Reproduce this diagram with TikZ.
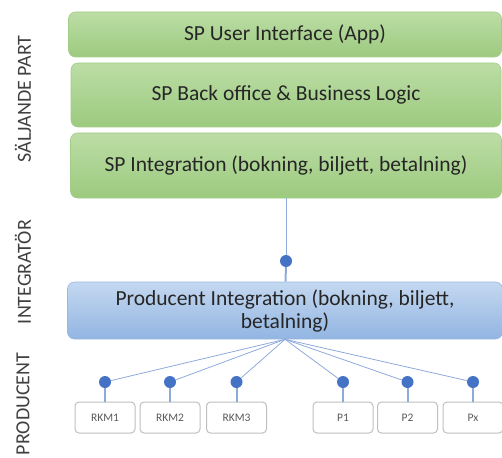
\documentclass[tikz,border=0pt]{standalone}
\usepackage{fontspec}
\setmainfont{Carlito}
\usetikzlibrary{positioning}

\definecolor{greentop}{HTML}{BCDDA6}
\definecolor{greenbot}{HTML}{9CCA7E}
\definecolor{greenedge}{HTML}{A3CD88}
\definecolor{bluetop}{HTML}{C4D8F0}
\definecolor{bluebot}{HTML}{92B5E2}
\definecolor{blueedge}{HTML}{9AB8E0}
\definecolor{pinblue}{HTML}{4472C4}
\definecolor{linkblue}{HTML}{8EAADB}
\definecolor{boxgray}{HTML}{BFBFBF}
\definecolor{textdark}{HTML}{262626}
\definecolor{textgray}{HTML}{595959}
\definecolor{sidegray}{HTML}{404040}

\tikzset{
  layer/.style={rounded corners=7pt, draw=greenedge, line width=0.6pt,
    top color=greentop, bottom color=greenbot, inner sep=0pt,
    text=textdark, font=\fontsize{21.5}{24}\selectfont},
  prodlayer/.style={layer, draw=blueedge, top color=bluetop, bottom color=bluebot,
    align=center, font=\fontsize{21.5}{23}\selectfont},
  pin/.style={circle, fill=pinblue, inner sep=0pt, minimum size=12pt},
  prod/.style={draw=boxgray, line width=1pt, rounded corners=4pt, fill=white,
    minimum width=60pt, minimum height=31pt, inner sep=0pt,
    text=textgray, font=\fontsize{11.5}{13}\selectfont},
  side/.style={rotate=90, text=sidegray, font=\fontsize{20}{24}\selectfont},
  thinlink/.style={draw=linkblue, line width=0.8pt},
  stem/.style={draw=linkblue, line width=2pt}
}

\begin{document}
\begin{tikzpicture}[x=1pt, y=-1pt]
  \useasboundingbox (0,0) rectangle (502,457);

  % role labels on the left
  \node[side] (lblsp)   at (23,99)  {SÄLJANDE PART};
  \node[side] (lblint)  at (23,272) {INTEGRATÖR};
  \node[side] (lblprod) at (23,404) {PRODUCENT};

  % seller layers
  \node[layer, minimum width=433pt, minimum height=45pt] (ui) at (285,34.5)
    {SP User Interface (App)};
  \node[layer, minimum width=430pt, minimum height=64pt] (backoffice) at (286,95)
    {SP Back office \& Business Logic};
  \node[layer, minimum width=431pt, minimum height=65pt] (spint) at (286,165.5)
    {SP Integration (bokning, biljett, betalning)};

  % integrator
  \node[prodlayer, minimum width=435pt, minimum height=57pt] (prodint) at (285,310.5)
    {Producent Integration (bokning, biljett,\\betalning)};

  % seller to integrator
  \node[pin] (pintop) at (286,261) {};
  \draw[thinlink] (spint) -- (pintop);
  \draw[stem] (pintop) -- (prodint);

  % producers
  \foreach \name/\x in {RKM1/105, RKM2/170, RKM3/236.5, P1/343, P2/407.5, Px/473} {
    \node[prod] (\name) at (\x,417.5) {\name};
    \node[pin] (pin\name) at (\x,382) {};
    \draw[stem] (pin\name) -- (\name);
    \draw[thinlink] (prodint.south) -- (pin\name);
  }
\end{tikzpicture}
\end{document}
